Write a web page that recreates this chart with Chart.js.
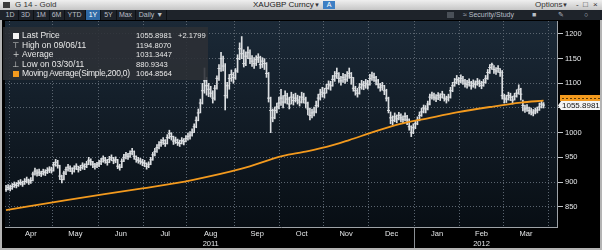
<!DOCTYPE html>
<html><head><meta charset="utf-8">
<script src="https://cdn.jsdelivr.net/npm/chart.js@4.4.0/dist/chart.umd.min.js"></script>
<style>
html,body{margin:0;padding:0;background:#000;width:602px;height:250px;overflow:hidden;font-family:"Liberation Sans",Arial,sans-serif;}
#wrap{position:relative;width:602px;height:250px;}
#c{position:absolute;left:0;top:0;}
.abs{position:absolute;white-space:nowrap;}
#title{left:0;top:0;width:602px;height:10px;background:linear-gradient(#efefef,#c6c6c6);font-size:8px;line-height:10px;color:#333;}
#tool{left:0;top:10px;width:602px;height:10px;background:#1e232a;font-size:7px;line-height:10px;color:#b8bec6;}
.btn{position:absolute;top:0;height:10px;text-align:center;border-right:1px solid #0e1115;}
#legend{left:3px;top:27px;width:205px;height:53px;background:rgba(44,48,54,0.88);font-size:8.5px;color:#e9e9e9;}
.row{position:absolute;left:0;height:9.5px;line-height:9.5px;width:205px;}
.lab{position:absolute;left:19px;}
.val{position:absolute;left:133px;font-size:7.6px;}
.chg{position:absolute;left:175px;font-size:7.6px;}
.ico{position:absolute;left:9px;width:8px;text-align:center;font-family:"DejaVu Sans";font-size:8px;color:#cfcfcf;}
#frame{left:0;top:20px;width:598px;height:228px;border-left:2px solid #b4b4b4;border-right:2px solid #b4b4b4;border-bottom:2px solid #b4b4b4;pointer-events:none;}
</style>
</head><body>
<div id="wrap">
<canvas id="c" width="602" height="250"></canvas>
<div id="title" class="abs">
  <span class="abs" style="left:3px;top:2px;width:7px;height:6px;background:#3a3a3a;"></span>
  <span class="abs" style="left:15px;">G 14 - Gold</span>
  <span class="abs" style="left:253px;color:#222;">XAUGBP Curncy</span>
  <span class="abs" style="left:314px;font-size:6px;">&#9660;</span>
  <span class="abs" style="left:323px;top:1px;width:12px;height:8px;line-height:8px;background:#3d7fc4;color:#fff;text-align:center;font-size:7px;">A</span>
  <span class="abs" style="left:535px;">Options</span>
  <span class="abs" style="left:562px;font-size:6px;">&#9660;</span>
  <span class="abs" style="left:576px;">-</span>
  <span class="abs" style="left:583px;">&#9633;</span>
  <span class="abs" style="left:593px;">&#215;</span>
</div>
<div id="tool" class="abs">
  <span class="btn" style="left:2px;width:16px;">1D</span>
  <span class="btn" style="left:18px;width:15px;">3D</span>
  <span class="btn" style="left:33px;width:16px;">1M</span>
  <span class="btn" style="left:49px;width:15px;">6M</span>
  <span class="btn" style="left:64px;width:21px;">YTD</span>
  <span class="btn" style="left:86px;width:14px;background:#2f6aa6;color:#fff;">1Y</span>
  <span class="btn" style="left:101px;width:15px;">5Y</span>
  <span class="btn" style="left:116px;width:19px;">Max</span>
  <span class="btn" style="left:136px;width:30px;">Daily &#9660;</span>
  <span class="abs" style="left:447px;top:2px;width:7px;height:6px;background:#4a5058;"></span>
  <span class="abs" style="left:463px;">&#8776; Security/Study</span>
  <span class="abs" style="left:532px;">&#9632;</span>
  <span class="abs" style="left:558px;">&#9998;</span>
  <span class="abs" style="left:584px;">&#9675;</span>
</div>
<div id="legend" class="abs">
  <div class="row" style="top:4px;"><span class="abs" style="left:10px;top:2px;width:6px;height:6px;background:#f4f4f4;"></span><span class="lab">Last Price</span><span class="val">1055.8981</span><span class="chg">+2.1799</span></div>
  <div class="row" style="top:13.5px;"><span class="ico">&#8868;</span><span class="lab">High on 09/06/11</span><span class="val">1194.8070</span></div>
  <div class="row" style="top:23px;"><span class="ico">+</span><span class="lab">Average</span><span class="val">1031.3447</span></div>
  <div class="row" style="top:32.5px;"><span class="ico">&#8869;</span><span class="lab">Low on 03/30/11</span><span class="val">880.9343</span></div>
  <div class="row" style="top:42px;"><span class="abs" style="left:10px;top:2px;width:6px;height:6px;background:#f39a1e;"></span><span class="lab" style="letter-spacing:-0.3px;">Moving Average(Simple,200,0)</span><span class="val">1064.8564</span></div>
</div>
<div id="frame" class="abs"></div>
</div>
<script>
// ---- data (trading-day index of first bar = firstDay) ----
const firstDay = 2;
const closes = [
885,889,887,891,895,893,897,899,896,901,904,900,903,916,922,918,920,917,921,919,923,926,924,
935,940,933,912,905,918,925,930,927,922,928,932,926,929,934,931,936,944,941,936,932,935,
938,942,947,944,940,946,949,943,945,932,930,942,950,955,952,958,962,952,946,944,942,940,
938,932,936,945,955,962,970,975,980,984,978,990,998,992,983,985,980,978,984,982,988,
992,995,1000,1012,1025,1040,1060,1085,1105,1095,1088,1080,1070,1090,1110,1130,1150,1135,1075,1095,1110,1118,1112,
1125,1150,1170,1160,1140,1155,1162,1150,1145,1140,1148,1152,1138,1145,1140,1120,1070,1045,1030,1045,1052,1060,
1070,1062,1075,1068,1058,1072,1065,1070,1066,1062,1072,1068,1060,1048,1035,1040,1042,1055,1070,1078,1082,
1080,1090,1098,1095,1108,1115,1120,1110,1105,1112,1108,1115,1120,1112,1090,1085,1080,1092,1098,1095,1100,1097,
1110,1115,1112,1105,1098,1092,1095,1085,1070,1045,1030,1025,1032,1028,1035,1030,1027,1033,1026,1012,1000,1010,
1018,1025,1035,1042,1050,1048,1058,1072,1076,1072,1070,1075,1072,1078,1070,1068,1072,1085,1095,1102,1108,1105,
1110,1105,1100,1098,1102,1095,1100,1098,1103,1100,1096,1102,1110,1122,1132,1138,1128,1125,1130,1122,1075,
1070,1068,1075,1072,1066,1074,1080,1088,1078,1055,1048,1050,1045,1042,1040,1044,1046,1052,1058,1055.8981
];
const highs = [
893,895,894,897,900,899,903,905,902,907,910,906,909,920,928,925,926,922,926,925,929,931,930,
940,946,944,934,914,922,930,936,933,929,933,937,932,934,939,937,942,950,947,942,938,940,
944,948,953,950,946,952,955,950,951,946,936,947,956,960,958,963,968,963,953,950,948,946,
944,939,941,950,960,968,976,982,986,990,986,996,1005,1000,993,991,987,985,990,988,994,
999,1002,1008,1018,1032,1048,1068,1100,1131,1112,1100,1094,1085,1096,1115,1138,1163,1155,1140,1102,1118,1127,1122,
1130,1158,1182,1194.807,1168,1164,1174,1168,1156,1152,1156,1160,1155,1152,1150,1142,1122,1072,1048,1052,1060,1072,
1088,1075,1085,1080,1072,1082,1078,1080,1076,1074,1082,1080,1072,1062,1050,1048,1052,1064,1078,1088,1092,
1090,1098,1105,1104,1116,1124,1131,1122,1114,1120,1118,1124,1131,1122,1112,1094,1090,1100,1106,1104,1108,1106,
1118,1123,1121,1114,1108,1100,1102,1096,1088,1072,1042,1034,1040,1036,1041,1038,1034,1040,1035,1028,1014,1018,
1024,1032,1042,1050,1056,1055,1064,1078,1082,1080,1077,1081,1079,1084,1078,1074,1078,1092,1102,1110,1116,1112,
1117,1114,1108,1106,1109,1104,1107,1105,1110,1107,1104,1108,1116,1128,1138,1141,1136,1132,1136,1130,1126,
1078,1076,1082,1080,1074,1080,1087,1097,1090,1066,1056,1057,1052,1050,1047,1050,1052,1060,1064,1061
];
const lows = [
880.9343,884,882,885,889,888,891,894,891,895,898,895,897,902,914,912,913,911,914,913,917,919,918,
922,932,928,905,898,904,915,922,921,916,920,925,920,923,926,925,929,935,934,929,926,929,
931,935,940,938,934,939,943,937,939,927,924,929,941,947,946,950,955,946,940,938,936,933,
931,926,929,935,944,953,960,967,972,976,972,977,988,985,976,978,974,972,977,975,981,
985,987,993,1000,1010,1024,1040,1058,1080,1076,1073,1072,1060,1066,1088,1106,1124,1125,1046,1070,1088,1104,1100,
1108,1122,1148,1150,1133,1136,1150,1140,1134,1130,1136,1142,1130,1132,1128,1112,1062,1000,1022,1028,1040,1048,
1055,1050,1060,1058,1048,1058,1056,1062,1058,1054,1060,1060,1050,1036,1026,1030,1034,1040,1052,1066,1072,
1070,1080,1088,1086,1094,1104,1110,1102,1096,1102,1100,1104,1110,1098,1084,1076,1072,1078,1088,1087,1090,1088,
1096,1106,1104,1097,1090,1084,1086,1077,1064,1040,1018,1016,1022,1020,1026,1022,1019,1024,1016,1005,992,998,
1008,1016,1024,1033,1040,1040,1046,1056,1068,1066,1063,1067,1065,1070,1064,1060,1064,1070,1083,1094,1099,1097,
1101,1098,1092,1090,1094,1088,1092,1090,1096,1093,1089,1094,1100,1108,1120,1128,1120,1118,1122,1114,1068,
1060,1061,1066,1065,1058,1066,1072,1078,1066,1044,1041,1043,1038,1036,1034,1038,1040,1045,1050,1050
];
const maDays = [2, 32, 68, 92, 116, 136, 146, 157, 168, 178, 190, 207, 220, 236, 251, 262];
const maValues = [843, 864, 887, 904, 927, 953, 961, 971, 985, 999, 1015, 1030, 1041, 1052, 1061, 1064.8564];
const monthLabels = ['Apr','May','Jun','Jul','Aug','Sep','Oct','Nov','Dec','Jan','Feb','Mar'];
const monthStarts = [4, 25, 47, 69, 90, 113, 135, 156, 178, 200, 222, 243, 265];
const yearNames = ['2011', '2012'];
const yearLabelMonth = [4, 10];
const yearBoundary = 200;
const yTicks = [850, 900, 950, 1000, 1050, 1100, 1150, 1200];
const lastPriceText = '1055.8981';

const xMin = 1.5, xMax = 268.5, yMin = 808.8, yMax = 1226.3;
const barColor = '#dcdfe2';
const gridColor = '#5b6570';
const textColor = '#e4e6e8';

const bgPlugin = {
  id: 'bg',
  beforeDraw(chart) {
    const {ctx, chartArea: a} = chart;
    ctx.save();
    ctx.fillStyle = '#000';
    ctx.fillRect(0, 0, chart.width, chart.height);
    const g = ctx.createLinearGradient(0, a.top, 0, a.bottom);
    g.addColorStop(0, '#1b2937');
    g.addColorStop(1, '#080e14');
    ctx.fillStyle = g;
    ctx.fillRect(a.left, a.top, a.right - a.left, a.bottom - a.top);
    ctx.restore();
  },
  afterDraw(chart) {
    const {ctx, chartArea: a} = chart;
    const xs = chart.scales.x, ys = chart.scales.y;
    ctx.save();
    // year separator
    const xb = Math.round(xs.getPixelForValue(yearBoundary - 0.5)) + 0.5;
    ctx.strokeStyle = '#8a8f94'; ctx.lineWidth = 1;
    ctx.beginPath(); ctx.moveTo(xb, a.bottom); ctx.lineTo(xb, chart.height); ctx.stroke();
    // last price tag
    const yc = ys.getPixelForValue(closes[closes.length - 1]);
    const top = Math.round(yc - 4.5);
    const x0 = a.right + 3;
    ctx.fillStyle = '#f39a1e';
    ctx.fillRect(x0, top - 6, chart.width - x0, 6);
    ctx.strokeStyle = '#5a3a08'; ctx.setLineDash([2, 2]);
    ctx.beginPath(); ctx.moveTo(x0 + 2, top - 2.5); ctx.lineTo(chart.width, top - 2.5); ctx.stroke();
    ctx.setLineDash([]);
    ctx.fillStyle = '#f4f4f4';
    ctx.beginPath();
    ctx.moveTo(a.right + 1, top + 4.5);
    ctx.lineTo(x0 + 1, top);
    ctx.lineTo(chart.width - 2, top);
    ctx.lineTo(chart.width - 2, top + 9);
    ctx.lineTo(x0 + 1, top + 9);
    ctx.closePath(); ctx.fill();
    ctx.fillStyle = '#111';
    ctx.font = '8px "Liberation Sans", Arial, sans-serif';
    ctx.textBaseline = 'middle';
    ctx.fillText(lastPriceText, x0 + 2, top + 5);
    ctx.restore();
  }
};

new Chart(document.getElementById('c'), {
  type: 'bar',
  data: {
    datasets: [
      {
        type: 'line', label: 'MA', order: 0,
        data: maDays.map((d, i) => ({x: d, y: maValues[i]})),
        borderColor: '#f39a1e', borderWidth: 1.8, pointRadius: 0,
        cubicInterpolationMode: 'monotone', xAxisID: 'x', yAxisID: 'y'
      },
      {
        type: 'line', label: 'Close', order: 1, showLine: false,
        data: closes.map((c, i) => ({x: firstDay + i, y: c})),
        pointStyle: 'line', pointRadius: 1.5, borderColor: barColor, borderWidth: 1,
        xAxisID: 'x', yAxisID: 'y'
      },
      {
        type: 'bar', label: 'Range', order: 2,
        data: highs.map((h, i) => ({x: firstDay + i, y: [lows[i], h]})),
        backgroundColor: barColor, barThickness: 1, borderWidth: 0,
        xAxisID: 'x', yAxisID: 'y'
      }
    ]
  },
  options: {
    responsive: false, animation: false, devicePixelRatio: 1,
    layout: {padding: {top: 21, left: 3, right: 0, bottom: 0}},
    plugins: {legend: {display: false}, tooltip: {enabled: false}},
    scales: {
      x: {
        type: 'linear', position: 'bottom', min: xMin, max: xMax, offset: false,
        afterBuildTicks: s => { s.ticks = monthStarts.map(v => ({value: v - 0.5})); },
        afterFit: s => { s.height = 0; },
        ticks: {display: false},
        grid: {color: gridColor, drawTicks: false, offset: false},
        border: {display: true, color: 'rgba(0,0,0,0)', width: 0, dash: [1, 2]}
      },
      xl: {
        type: 'linear', position: 'bottom', min: xMin, max: xMax, offset: false,
        afterBuildTicks: s => {
          const t = [];
          for (let i = 0; i < monthLabels.length; i++) t.push({value: (monthStarts[i] + monthStarts[i + 1]) / 2 - 0.5});
          s.ticks = t;
        },
        afterFit: s => { s.height = 23; },
        ticks: {
          autoSkip: false, maxRotation: 0, padding: 2, color: textColor,
          font: {family: '"Liberation Sans", Arial, sans-serif', size: 7.5, lineHeight: 1.35},
          callback: (v, i) => {
            const k = yearLabelMonth.indexOf(i);
            return k >= 0 ? [monthLabels[i], yearNames[k]] : monthLabels[i];
          }
        },
        grid: {drawOnChartArea: false, drawTicks: false, color: 'rgba(0,0,0,0)'},
        border: {display: true, color: '#9ea3a8', width: 1}
      },
      y: {
        type: 'linear', position: 'right', min: yMin, max: yMax,
        afterBuildTicks: s => { s.ticks = yTicks.map(v => ({value: v})); },
        afterFit: s => { s.width = 45; },
        ticks: {
          padding: 2, color: textColor,
          font: {family: '"Liberation Sans", Arial, sans-serif', size: 7.5},
          callback: v => String(v)
        },
        grid: {color: gridColor, tickColor: '#c4c8cc', tickLength: 6, tickBorderDash: [], drawTicks: true},
        border: {display: true, color: '#9ea3a8', width: 1, dash: [1, 2]}
      }
    }
  },
  plugins: [bgPlugin]
});
</script>
</body></html>
